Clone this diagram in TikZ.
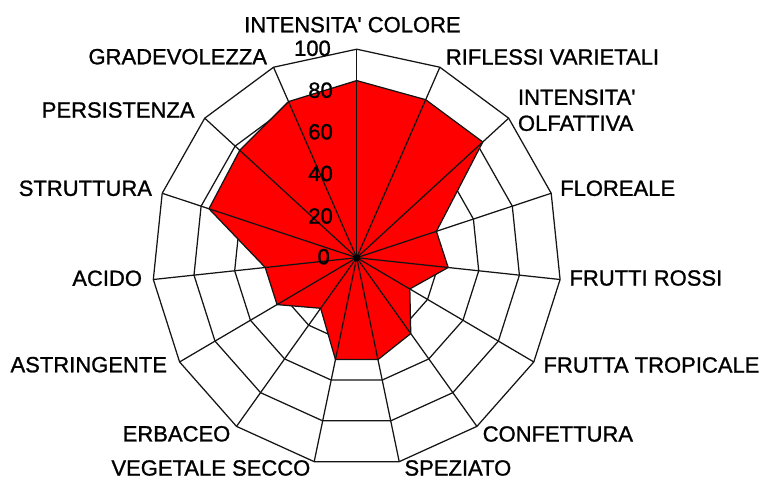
\documentclass[tikz,border=0pt]{standalone}
\usepackage{fontspec}
\setmainfont{Liberation Sans}
\newfontfamily\labfont[FakeBold=1.1]{Liberation Sans}
\begin{document}
\begin{tikzpicture}[x=1pt,y=-1pt,
  grid/.style={draw=black!92, line width=1.25pt, line join=miter},
  series/.style={fill=red, draw=black!92, line width=1.25pt, line join=miter},
  lab/.style={font=\labfont\fontsize{22}{26}\selectfont, inner sep=0pt, text=black},
  num/.style={lab, anchor=east}]
\useasboundingbox (0,0) rectangle (765,479);
\def\cx{356.7}
\def\cy{257.7}
\def\rx{204.5}
\def\ry{208.5}
\coordinate (c) at (\cx,\cy);
% grid points
\foreach \i in {0,...,14} {
  \foreach \k in {1,...,5} {
    \coordinate (g\k-\i) at ({\cx+\k*0.2*\rx*sin(24*\i)},{\cy-\k*0.2*\ry*cos(24*\i)});
  }
}
% rings
\foreach \k in {1,...,5} {
  \draw[grid] (g\k-0) \foreach \i in {1,...,14} { -- (g\k-\i) } -- cycle;
}
% series points
\foreach \v [count=\j from 0] in {85,83,83,41,45,30,45,50,50,30,45,45,76,77,82} {
  \coordinate (p\j) at ({\cx+\v*0.01*\rx*sin(24*\j)},{\cy-\v*0.01*\ry*cos(24*\j)});
}
\draw[series] (p0) \foreach \j in {1,...,14} { -- (p\j) } -- cycle;
% spokes
\foreach \i in {0,...,14} {
  \draw[grid] (c) -- (g5-\i);
}
\fill[black] (c) circle (3.5pt);
% scale labels
\node[num] (n0) at (330,256.7) {0};
\node[num] (n20) at (333,216) {20};
\node[num] (n40) at (333,173.5) {40};
\node[num] (n60) at (333,131.8) {60};
\node[num] (n80) at (333,90.2) {80};
\node[num] (n100) at (331,48.3) {100};
% category labels
\node[lab, anchor=west] (lIC) at (244,24.7) {INTENSITA' COLORE};
\node[lab, anchor=west] (lRV) at (445.7,57) {RIFLESSI VARIETALI};
\node[lab, anchor=west, align=left] (lIO) at (517.8,110.3) {INTENSITA'\\OLFATTIVA};
\node[lab, anchor=west] (lFL) at (560,188.3) {FLOREALE};
\node[lab, anchor=west] (lFR) at (569.3,278) {FRUTTI ROSSI};
\node[lab, anchor=west] (lFT) at (543.3,365) {FRUTTA TROPICALE};
\node[lab, anchor=west] (lCO) at (482.5,434) {CONFETTURA};
\node[lab, anchor=west] (lSP) at (404.3,468) {SPEZIATO};
\node[lab, anchor=east] (lVS) at (310.5,468) {VEGETALE SECCO};
\node[lab, anchor=east] (lER) at (230.5,433.8) {ERBACEO};
\node[lab, anchor=east] (lAS) at (167.2,364.7) {ASTRINGENTE};
\node[lab, anchor=east] (lAC) at (142.2,278.3) {ACIDO};
\node[lab, anchor=east] (lST) at (152.2,188.3) {STRUTTURA};
\node[lab, anchor=east] (lPE) at (194.8,110) {PERSISTENZA};
\node[lab, anchor=east] (lGR) at (267.2,56.7) {GRADEVOLEZZA};
\end{tikzpicture}
\end{document}
